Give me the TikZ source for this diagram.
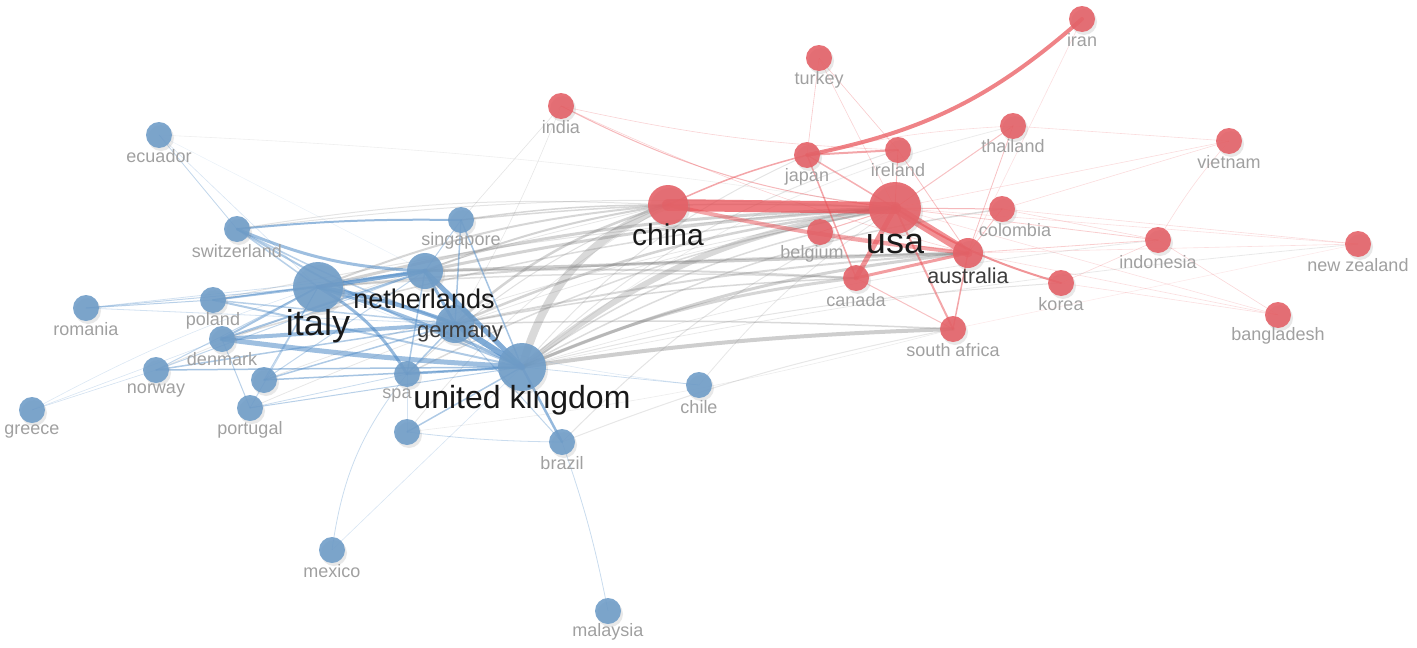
\documentclass[tikz,border=0pt]{standalone}
\usepackage{fontspec}
\setmainfont{Liberation Sans}
\usetikzlibrary{shadows}
\definecolor{nblue}{RGB}{112,157,200}
\definecolor{nred}{RGB}{228,98,104}
\definecolor{eblue}{RGB}{78,138,198}
\definecolor{ered}{RGB}{232,78,84}
\definecolor{egray}{RGB}{120,120,120}
\definecolor{lgray}{RGB}{160,160,160}
\definecolor{dgray}{RGB}{60,60,60}
\tikzset{
  gedge/.style={draw=egray, line cap=round},
  bedge/.style={draw=eblue, line cap=round},
  redge/.style={draw=ered, line cap=round},
  vnode/.style={circle, inner sep=0pt, fill opacity=0.9, drop shadow={opacity=0.18, shadow xshift=2pt, shadow yshift=-3pt}},
  bnode/.style={vnode, fill=nblue},
  rnode/.style={vnode, fill=nred},
  slab/.style={inner sep=0pt, text=lgray, font=\fontsize{18}{18}\selectfont},
  blab/.style={inner sep=0pt, text=black!90},
  mlab/.style={inner sep=0pt, text=dgray},
}
\begin{document}
\begin{tikzpicture}[x=1pt,y=-1pt]
\useasboundingbox (0,0) rectangle (1417,648);
% ---------- positions
\coordinate (ecuador) at (159,135);
\coordinate (switzerland) at (237,229);
\coordinate (italy) at (318,287);
\coordinate (netherlands) at (425,271);
\coordinate (germany) at (455,324);
\coordinate (singapore) at (461,220);
\coordinate (uk) at (522,367);
\coordinate (poland) at (213,300);
\coordinate (romania) at (86,308);
\coordinate (denmark) at (222,339);
\coordinate (norway) at (156,370);
\coordinate (bone) at (264,380);
\coordinate (portugal) at (250,408);
\coordinate (greece) at (32,410);
\coordinate (spain) at (407,374);
\coordinate (btwo) at (407,432);
\coordinate (brazil) at (562,442);
\coordinate (chile) at (699,385);
\coordinate (mexico) at (332,550);
\coordinate (malaysia) at (608,611);
\coordinate (iran) at (1082,19);
\coordinate (turkey) at (819,58);
\coordinate (india) at (561,106);
\coordinate (japan) at (807,155);
\coordinate (ireland) at (898,150);
\coordinate (thailand) at (1013,126);
\coordinate (vietnam) at (1229,141);
\coordinate (china) at (668,205);
\coordinate (usa) at (895,208);
\coordinate (colombia) at (1002,209);
\coordinate (belgium) at (820,232);
\coordinate (australia) at (968,253);
\coordinate (indonesia) at (1158,240);
\coordinate (newz) at (1358,244);
\coordinate (canada) at (856,278);
\coordinate (korea) at (1061,283);
\coordinate (bangladesh) at (1278,315);
\coordinate (safrica) at (953,329);
% ---------- gray links between clusters (positive bend = bows to the left of travel)
\foreach \a/\b/\w/\o/\bb in {
 uk/china/8/0.28/26, uk/usa/6/0.28/15, uk/safrica/4/0.36/3, uk/australia/3/0.33/8,
 uk/canada/3/0.3/8, uk/colombia/1.5/0.26/10, uk/belgium/1.5/0.26/10, uk/korea/1/0.2/5,
 uk/japan/1/0.2/12, uk/ireland/1/0.2/12, uk/newz/0.8/0.16/3, uk/indonesia/0.8/0.16/5,
 italy/usa/3/0.33/6, italy/china/2/0.3/8, italy/australia/2/0.3/2,
 netherlands/usa/3/0.33/4, netherlands/australia/3/0.36/0, netherlands/china/2/0.33/6,
 netherlands/canada/2/0.28/2, germany/usa/2.5/0.32/8, germany/china/2.5/0.32/12,
 germany/australia/2/0.28/4, germany/safrica/1.5/0.28/2, germany/canada/1.5/0.28/4,
 singapore/china/1.5/0.3/4, singapore/usa/1.5/0.28/4, spain/usa/1.5/0.26/8,
 spain/china/1/0.24/10, denmark/usa/1.5/0.26/5, switzerland/usa/1/0.2/5,
 switzerland/china/1/0.2/6, brazil/usa/1/0.2/10, brazil/safrica/1/0.18/5,
 chile/usa/0.8/0.18/8, ecuador/usa/0.6/0.12/3, india/singapore/0.6/0.2/0,
 india/germany/0.6/0.18/4, poland/usa/1/0.2/4, portugal/usa/0.8/0.18/6,
 norway/china/0.8/0.18/5, bone/usa/0.8/0.18/5, btwo/china/0.8/0.18/10,
 btwo/safrica/0.6/0.14/-4, italy/canada/1.5/0.24/3, uk/thailand/0.8/0.14/12}
 \draw[gedge, line width=\w pt, draw opacity=\o] (\a) to[bend left=\bb] (\b);
% ---------- blue links
\foreach \a/\b/\w/\o/\bb in {
 italy/netherlands/4/0.7/0, italy/germany/4/0.65/5, italy/spain/3/0.6/14,
 italy/uk/3/0.55/4, netherlands/uk/5/0.7/0, germany/uk/6/0.72/0,
 netherlands/germany/3/0.6/0, denmark/uk/5/0.55/-2, denmark/germany/4/0.55/0,
 denmark/netherlands/2/0.5/0, denmark/italy/2/0.5/0,
 switzerland/netherlands/3/0.55/-10, switzerland/singapore/2/0.6/3,
 switzerland/uk/2/0.45/-5, switzerland/germany/1.5/0.4/-4,
 poland/italy/2/0.5/0, poland/uk/2/0.45/0, poland/germany/1.5/0.4/0,
 poland/netherlands/1.5/0.4/0, romania/poland/1/0.4/0, romania/italy/1/0.35/0,
 romania/netherlands/0.8/0.25/0, romania/germany/0.8/0.25/0,
 norway/uk/1.5/0.5/0, norway/germany/1.5/0.45/0, norway/italy/1/0.35/0,
 norway/netherlands/1/0.35/0, greece/norway/0.6/0.25/0, greece/italy/0.6/0.2/5,
 greece/denmark/0.6/0.22/0, portugal/uk/1/0.4/0, portugal/denmark/1/0.4/0,
 portugal/italy/1/0.35/0, portugal/spain/0.8/0.3/0, bone/uk/1.5/0.5/0,
 bone/italy/1/0.4/0, bone/germany/1.5/0.45/0, bone/netherlands/1/0.35/0,
 spain/uk/2/0.6/0, spain/netherlands/1.5/0.45/0, spain/germany/1.5/0.45/0,
 btwo/uk/1.5/0.45/0, btwo/spain/1/0.35/0, btwo/brazil/0.8/0.3/-3,
 brazil/uk/2.5/0.6/0, brazil/malaysia/0.8/0.3/4, brazil/germany/1/0.35/0,
 mexico/spain/0.8/0.3/15, mexico/uk/0.6/0.22/0, chile/uk/0.8/0.28/0,
 chile/italy/0.6/0.18/8, ecuador/switzerland/0.8/0.35/0, ecuador/italy/0.6/0.22/0,
 ecuador/netherlands/0.5/0.12/0, singapore/germany/1.5/0.5/0,
 singapore/uk/1.5/0.5/0, singapore/netherlands/1/0.4/0, switzerland/italy/1.5/0.4/0}
 \draw[bedge, line width=\w pt, draw opacity=\o] (\a) to[bend left=\bb] (\b);
% ---------- red links
\foreach \a/\b/\w/\o/\bb in {
 china/usa/12/0.75/0, usa/australia/9/0.62/0, china/australia/4/0.5/-3,
 usa/canada/5/0.6/0, canada/australia/3/0.55/0, japan/iran/4/0.7/-15,
 japan/ireland/2/0.5/0, japan/china/1.5/0.5/-5, japan/canada/1.5/0.5/0,
 usa/korea/2/0.6/-8, usa/safrica/2/0.5/0, australia/safrica/1.5/0.5/0,
 canada/safrica/1/0.35/0, india/usa/1/0.4/-10, india/ireland/0.6/0.25/-5,
 india/australia/0.6/0.25/-5, turkey/japan/0.6/0.3/0, turkey/ireland/0.6/0.3/0,
 turkey/usa/0.6/0.25/0, thailand/australia/0.8/0.35/0, thailand/usa/1/0.35/0,
 thailand/vietnam/0.6/0.2/0, thailand/japan/0.6/0.2/-5, colombia/usa/1/0.4/0,
 colombia/australia/0.8/0.35/0, colombia/indonesia/0.6/0.22/0,
 colombia/newz/0.6/0.2/0, vietnam/usa/0.6/0.2/0, vietnam/indonesia/0.6/0.2/-5,
 vietnam/colombia/0.6/0.2/0, indonesia/usa/0.8/0.28/0,
 indonesia/australia/0.8/0.28/0, indonesia/korea/0.6/0.22/0,
 indonesia/bangladesh/0.6/0.22/0, newz/usa/0.6/0.18/0, newz/australia/0.6/0.18/0,
 newz/safrica/0.6/0.12/0, bangladesh/usa/0.6/0.18/0,
 bangladesh/australia/0.6/0.18/0, bangladesh/korea/0.6/0.18/0,
 belgium/usa/1/0.4/0, belgium/australia/0.8/0.3/0, ireland/usa/1/0.4/0,
 ireland/australia/0.8/0.35/0, iran/australia/0.6/0.18/0, usa/japan/1.5/0.45/0}
 \draw[redge, line width=\w pt, draw opacity=\o] (\a) to[bend left=\bb] (\b);
% ---------- blue nodes
\foreach \c/\r in {ecuador/13, switzerland/13, italy/25, netherlands/18, germany/19,
 singapore/13, uk/24, poland/13, romania/13, denmark/13, norway/13, bone/13,
 portugal/13, greece/13, spain/13, btwo/13, brazil/13, chile/13, mexico/13, malaysia/13}
 \node[bnode, minimum size=2*\r pt] (\c-n) at (\c) {};
% ---------- red nodes
\foreach \c/\r in {iran/13, turkey/13, india/13, japan/13, ireland/13, thailand/13,
 vietnam/13, china/20, usa/26, colombia/13, belgium/13, australia/15, indonesia/13,
 newz/13, canada/13, korea/13, bangladesh/13, safrica/13}
 \node[rnode, minimum size=2*\r pt] (\c-n) at (\c) {};
% ---------- small labels
\foreach \t/\x/\y in {ecuador/159/156, switzerland/237/251, poland/213/321,
 romania/86/329, denmark/222/359, norway/156/391, portugal/250/430, greece/32/432,
 spa/397/396, brazil/562/463, chile/699/407, mexico/332/571, malaysia/608/632,
 iran/1082/40, turkey/819/80, india/561/127, japan/807/177, ireland/898/170,
 thailand/1013/146, vietnam/1229/162, colombia/1015/230, belgium/812/254,
 indonesia/1158/262, canada/856/300, korea/1061/304, bangladesh/1278/336,
 singapore/461/241}
 \node[slab] (\t-l) at (\x,\y) {\t};
\node[slab] (newz-l) at (1358,265) {new zealand};
\node[slab] (safrica-l) at (953,350) {south africa};
% ---------- medium and big labels
\node[mlab, font=\fontsize{22}{22}\selectfont] (germany-l) at (460,334) {germany};
\node[mlab, font=\fontsize{21.5}{22}\selectfont] (australia-l) at (968,276) {australia};
\node[blab, font=\fontsize{27}{27}\selectfont] (netherlands-l) at (424,299) {netherlands};
\node[blab, font=\fontsize{30}{30}\selectfont] (china-l) at (668,235) {china};
\node[blab, font=\fontsize{36}{36}\selectfont] (italy-l) at (318,326) {italy};
\node[blab, font=\fontsize{36}{36}\selectfont] (usa-l) at (895,244) {usa};
\node[blab, font=\fontsize{32}{32}\selectfont] (uk-l) at (522,400) {united kingdom};
\end{tikzpicture}
\end{document}
